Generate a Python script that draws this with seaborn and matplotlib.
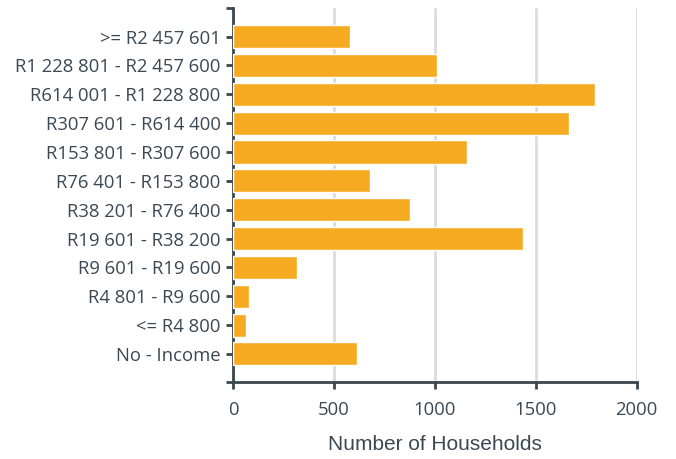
import seaborn as sns
import matplotlib.pyplot as plt
import pandas as pd

# income brackets, top to bottom
categories = ['>= R2 457 601', 'R1 228 801 - R2 457 600', 'R614 001 - R1 228 800',
              'R307 601 - R614 400', 'R153 801 - R307 600', 'R76 401 - R153 800',
              'R38 201 - R76 400', 'R19 601 - R38 200', 'R9 601 - R19 600',
              'R4 801 - R9 600', '<= R4 800', 'No - Income']
households = [580, 1010, 1795, 1663, 1157, 678, 878, 1434, 315, 80, 65, 615]
x_ticks = [0, 500, 1000, 1500, 2000]

df = pd.DataFrame({'Income': categories, 'Households': households})

sns.set_style('white')
plt.rcParams['font.family'] = ['Open Sans', 'DejaVu Sans']

text_col = '#3b4853'
axis_col = '#3a4650'

fig = plt.figure(figsize=(6.76, 4.59), dpi=100)
ax = fig.add_axes([0.345, 0.168, 0.597, 0.815])

sns.barplot(data=df, x='Households', y='Income', color='#f6aa22',
            width=0.8, saturation=1, ax=ax, zorder=3)

ax.set_xlim(0, 2000)
ax.set_ylim(len(categories) - 0.03, -1)
ax.set_xticks(x_ticks)
ax.xaxis.grid(True, color='#dcdcdc', linewidth=2, zorder=0)
ax.set_axisbelow(True)

for side in ['top', 'right']:
    ax.spines[side].set_visible(False)
for side in ['left', 'bottom']:
    ax.spines[side].set_color(axis_col)
    ax.spines[side].set_linewidth(2)

# outer ticks at the ends of the y axis
ax.set_yticks([-1, len(categories) - 0.03], minor=True)
ax.tick_params(axis='y', which='both', left=True, length=5, width=2, color=axis_col,
               labelsize=13.3, labelcolor=text_col, pad=4)
ax.tick_params(axis='x', bottom=True, length=5, width=2, color=axis_col,
               labelsize=13.3, labelcolor=text_col, pad=9)

ax.set_ylabel('')
ax.set_xlabel('Number of Households', fontsize=15, color=text_col,
              family=['Liberation Sans', 'DejaVu Sans'], labelpad=11)

fig.savefig('out.png', dpi=100)
